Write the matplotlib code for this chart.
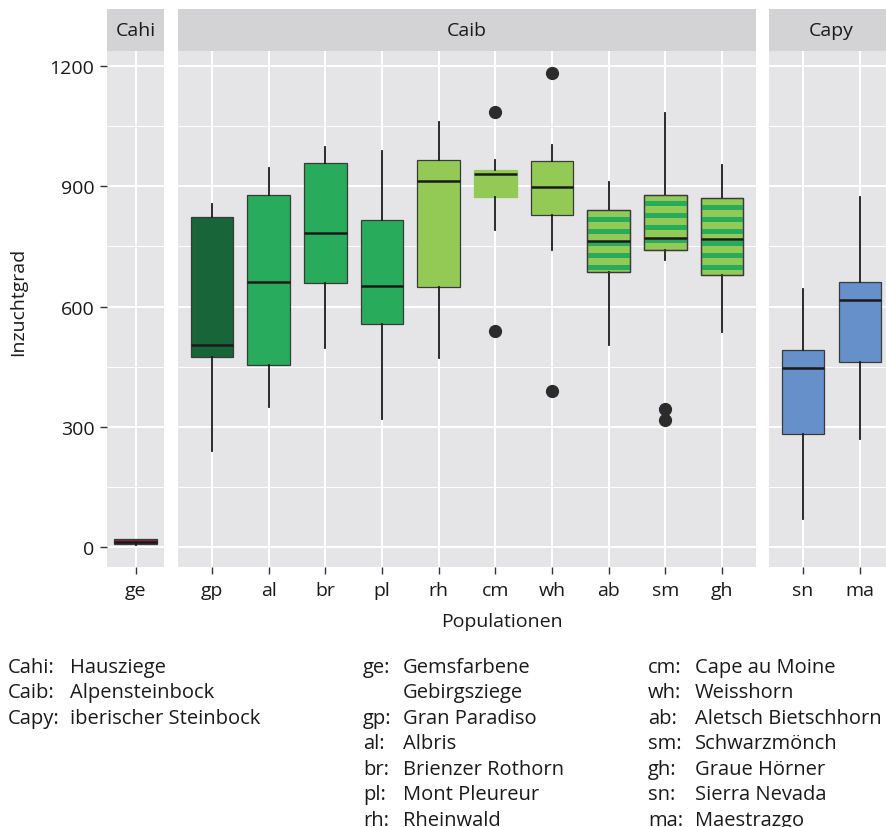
import matplotlib
matplotlib.use("Agg")
import matplotlib.pyplot as plt
from matplotlib.patches import Rectangle
from matplotlib.ticker import MultipleLocator

plt.rcParams['font.family'] = ['Open Sans', 'DejaVu Sans']

# data
groups = ["Cahi", "Caib", "Capy"]
group_pops = [
    ["ge"],
    ["gp", "al", "br", "pl", "rh", "cm", "wh", "ab", "sm", "gh"],
    ["sn", "ma"],
]
pops = ["ge", "gp", "al", "br", "pl", "rh", "cm", "wh", "ab", "sm", "gh", "sn", "ma"]
whis_lo = [6, 241, 350, 497, 319, 471, 790, 742, 504, 716, 536, 70, 269]
q1 = [8, 474, 455, 659, 556, 648, 872, 828, 687, 740, 678, 282, 462]
med = [14, 505, 662, 783, 651, 913, 931, 899, 763, 772, 768, 447, 616]
q3 = [20, 822, 879, 958, 816, 966, 941, 962, 841, 879, 870, 491, 661]
whis_hi = [22, 856, 944, 998, 988, 1061, 965, 1003, 911, 1083, 953, 644, 873]
outliers = {"cm": [1084, 540], "wh": [1183, 390], "sm": [344, 317]}

fills = {"ge": "#86283f", "gp": "#176538", "al": "#28ab5a", "br": "#28ab5a",
         "pl": "#28ab5a", "rh": "#93c955", "cm": "#93c955", "wh": "#93c955",
         "ab": "#93c955", "sm": "#93c955", "gh": "#93c955", "sn": "#6590ca",
         "ma": "#6590ca"}
striped = ["ab", "sm", "gh"]
stripe_col = "#28ab5a"

legend_groups = [("Cahi:", "Hausziege"), ("Caib:", "Alpensteinbock"),
                 ("Capy:", "iberischer Steinbock")]
legend_pops1 = [("ge:", "Gemsfarbene"), ("", "Gebirgsziege"), ("gp:", "Gran Paradiso"),
                ("al:", "Albris"), ("br:", "Brienzer Rothorn"), ("pl:", "Mont Pleureur"),
                ("rh:", "Rheinwald")]
legend_pops2 = [("cm:", "Cape au Moine"), ("wh:", "Weisshorn"),
                ("ab:", "Aletsch Bietschhorn"), ("sm:", "Schwarzmönch"),
                ("gh:", "Graue Hörner"), ("sn:", "Sierra Nevada"), ("ma:", "Maestrazgo")]

W, H = 886, 828
fig = plt.figure(figsize=(W / 100, H / 100), dpi=100)

# panel extents in pixels: (left, width, xlim)
panel_px = [(107, 57, (-0.5, 0.5)), (178, 578, (-0.6, 9.6)), (769, 125, (-0.6, 1.6))]
top_px, bot_px = 51.5, 568
strip_h = 41.5
ylim = (-49, 1238)

txt_col = "#1a1a1a"
fs = 14.5
fs_tick = 14

for gi, (g, plist) in enumerate(zip(groups, group_pops)):
    left, width, xl = panel_px[gi]
    ax = fig.add_axes([left / W, 1 - bot_px / H, width / W, (bot_px - top_px) / H])
    ax.set_facecolor("#e5e5e7")
    stats = []
    for p in plist:
        i = pops.index(p)
        stats.append(dict(med=med[i], q1=q1[i], q3=q3[i], whislo=whis_lo[i],
                          whishi=whis_hi[i], fliers=outliers.get(p, [])))
    pos = list(range(len(plist)))
    bp = ax.bxp(stats, positions=pos, widths=0.75, patch_artist=True, showcaps=False,
                boxprops=dict(edgecolor="#3a3a3a", linewidth=0.9),
                medianprops=dict(color="#1a1a1a", linewidth=1.8),
                whiskerprops=dict(color="#1a1a1a", linewidth=1.3),
                flierprops=dict(marker="o", markerfacecolor="#2b2b2b",
                                markeredgecolor="#2b2b2b", markersize=8.5))
    for p, box, x in zip(plist, bp["boxes"], pos):
        box.set_facecolor(fills[p])
        box.set_zorder(2)
        if p == "cm":
            box.set_edgecolor(fills[p])
        if p in striped:
            i = pops.index(p)
            y = q3[i] - 17
            while y > q1[i]:
                r = Rectangle((x - 0.375, y - 12.5), 0.75, 12.5, facecolor=stripe_col,
                              edgecolor="none", zorder=2.1)
                ax.add_patch(r)
                r.set_clip_path(box)
                y -= 30
            edge = Rectangle((x - 0.375, q1[i]), 0.75, q3[i] - q1[i], facecolor="none",
                             edgecolor="#3a3a3a", linewidth=0.9, zorder=2.2)
            ax.add_patch(edge)
    for m in bp["medians"]:
        m.set_zorder(3)

    ax.set_xlim(*xl)
    ax.set_ylim(*ylim)
    ax.set_xticks(pos)
    ax.set_xticklabels(plist, fontsize=fs_tick, color=txt_col)
    ax.set_yticks([0, 300, 600, 900, 1200])
    ax.yaxis.set_minor_locator(MultipleLocator(150))
    ax.grid(True, which="major", color="white", linewidth=1.4, zorder=0)
    ax.grid(True, which="minor", axis="y", color="white", linewidth=0.7, zorder=0)
    ax.set_axisbelow(True)
    for s in ax.spines.values():
        s.set_visible(False)
    ax.tick_params(axis="x", length=5, width=1, color="#333333", pad=5)
    ax.tick_params(axis="y", which="minor", length=0)
    if gi == 0:
        ax.tick_params(axis="y", length=5, width=1, color="#333333", pad=4,
                       labelsize=fs_tick, labelcolor=txt_col)
    else:
        ax.tick_params(axis="y", which="both", length=0, labelleft=False)

    # facet strip
    sh = strip_h / (bot_px - top_px)
    ax.add_patch(Rectangle((0, 1), 1, sh, transform=ax.transAxes, clip_on=False,
                           facecolor="#d3d3d5", edgecolor="none"))
    ax.text(0.5, 1 + sh / 2, g, transform=ax.transAxes, ha="center", va="center",
            fontsize=fs_tick, color=txt_col)

fig.text(18 / W, 1 - 302 / H, "Inzuchtgrad", rotation=90, ha="center", va="center",
         fontsize=fs_tick, color=txt_col)
fig.text(502 / W, 1 - 622 / H, "Populationen", ha="center", va="center",
         fontsize=fs_tick, color=txt_col)

# text legend below the plot
base0, step = 673, 25.5
for k, (key, name) in enumerate(legend_groups):
    yb = 1 - (base0 + k * step) / H
    fig.text(8 / W, yb, key, ha="left", va="baseline", fontsize=fs, color=txt_col)
    fig.text(70 / W, yb, name, ha="left", va="baseline", fontsize=fs, color=txt_col)
for k, (key, name) in enumerate(legend_pops1):
    yb = 1 - (base0 + k * step) / H
    fig.text(363 / W, yb, key, ha="left", va="baseline", fontsize=fs, color=txt_col)
    fig.text(403 / W, yb, name, ha="left", va="baseline", fontsize=fs, color=txt_col)
for k, (key, name) in enumerate(legend_pops2):
    yb = 1 - (base0 + k * step) / H
    fig.text(648 / W, yb, key, ha="left", va="baseline", fontsize=fs, color=txt_col)
    fig.text(695 / W, yb, name, ha="left", va="baseline", fontsize=fs, color=txt_col)

fig.savefig("out.png", dpi=100)
